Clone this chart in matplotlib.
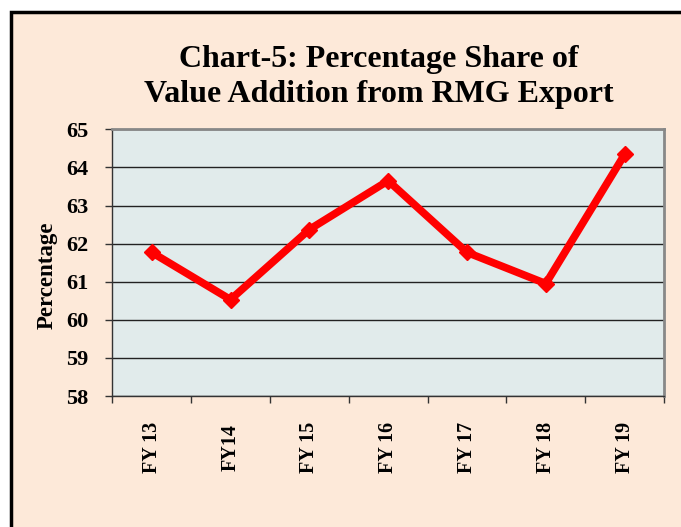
import matplotlib.pyplot as plt
from matplotlib.patches import Rectangle
import numpy as np

# Data
years = ['FY 13', 'FY14', 'FY 15', 'FY 16', 'FY 17', 'FY 18', 'FY 19']
share = [61.77, 60.53, 62.37, 63.65, 61.77, 60.95, 64.34]
y_ticks = [58, 59, 60, 61, 62, 63, 64, 65]

plt.rcParams['font.family'] = ['Liberation Serif', 'DejaVu Serif']
plt.rcParams['font.weight'] = 'bold'

fig = plt.figure(figsize=(6.81, 5.27), dpi=100)
fig.patch.set_facecolor('white')

# peach chart area with black frame (cropped on right/bottom)
bg = Rectangle((10.5 / 681, -0.05), 1.0, 1 - 11.5 / 527 + 0.05, transform=fig.transFigure,
               facecolor='#FDE9D9', edgecolor='black', linewidth=2.5, zorder=-10)
fig.patches.append(bg)

ax = fig.add_axes([112.3 / 681, 1 - 396 / 527, (664 - 112.3) / 681, (396 - 129.3) / 527])
ax.set_facecolor('#E1EBEB')

x = np.arange(len(years)) + 0.5
ax.plot(x, share, color='#FF0000', linewidth=5.5, marker='D', markersize=8,
        solid_joinstyle='miter', zorder=3)

ax.set_xlim(0, len(years))
ax.set_ylim(58, 65)
ax.set_yticks(y_ticks)
ax.set_yticklabels([str(t) for t in y_ticks], fontsize=16, fontweight='bold')
ax.set_xticks(np.arange(len(years) + 1))
ax.set_xticklabels([])
ax.set_xticks(x, minor=True)
ax.set_xticklabels(years, minor=True, rotation=90, fontsize=14.5, fontweight='bold',
                   va='center', ha='center')
ax.tick_params(axis='x', which='minor', length=0, pad=37)
ax.tick_params(axis='x', which='major', length=5, width=1, color='#333333', direction='out')
ax.tick_params(axis='y', length=5, width=1, color='#333333', direction='out', pad=12)

ax.grid(True, axis='y', color='#222222', linewidth=1)
ax.set_axisbelow(True)

for s in ['top', 'right']:
    ax.spines[s].set_color('#888888')
    ax.spines[s].set_linewidth(2)
for s in ['left', 'bottom']:
    ax.spines[s].set_color('#333333')
    ax.spines[s].set_linewidth(1)

ax.set_ylabel('Percentage', fontsize=16.5, fontweight='bold')
ax.yaxis.set_label_coords(-(112.3 - 58) / (664 - 112.3), (396 - 275) / (396 - 129.3))

tx = 379 / 681
fig.text(tx, 1 - 67 / 527, 'Chart-5: Percentage Share of',
         ha='center', va='baseline', fontsize=23, fontweight='bold')
fig.text(tx, 1 - 102 / 527, 'Value Addition from RMG Export',
         ha='center', va='baseline', fontsize=23, fontweight='bold')

fig.savefig('out.png', dpi=100)
